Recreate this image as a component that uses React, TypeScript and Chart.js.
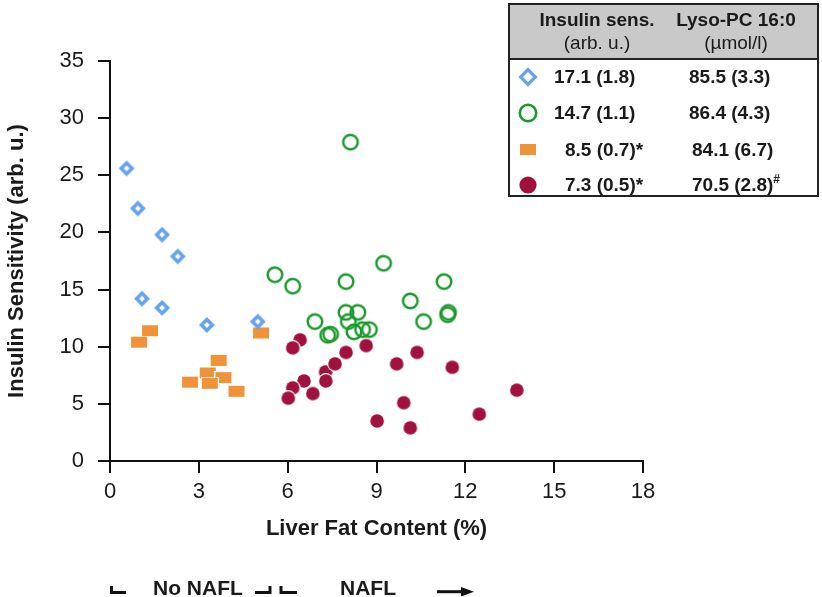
import React, { useEffect, useRef } from "react";
import { Chart, registerables } from "chart.js";

Chart.register(...registerables);

// ---- data ----
const noNaflHighX = [0.56, 0.94, 1.76, 2.29, 1.08, 1.76, 3.27, 4.99];
const noNaflHighY = [25.6, 22.1, 19.8, 17.9, 14.2, 13.4, 11.9, 12.2];

const naflHighX = [5.57, 6.17, 7.97, 8.12, 9.24, 11.28, 10.14, 7.97, 8.37, 11.43, 11.4, 10.59, 6.92, 8.05, 7.35, 7.45, 8.24, 8.53, 8.76];
const naflHighY = [16.3, 15.3, 15.7, 27.9, 17.3, 15.7, 14.0, 13.0, 13.0, 13.0, 12.8, 12.2, 12.2, 12.2, 11.0, 11.1, 11.3, 11.5, 11.5];

const noNaflLowX = [1.35, 0.98, 5.1, 3.67, 3.3, 3.83, 3.37, 2.7, 4.27];
const noNaflLowY = [11.4, 10.4, 11.2, 8.8, 7.7, 7.3, 6.8, 6.9, 6.1];

const naflLowX = [6.42, 6.17, 8.65, 7.97, 10.37, 7.28, 7.6, 9.68, 11.56, 7.29, 6.55, 6.17, 6.02, 6.85, 13.74, 9.92, 12.47, 9.02, 10.14];
const naflLowY = [10.6, 9.9, 10.1, 9.5, 9.5, 7.8, 8.5, 8.5, 8.2, 7.0, 7.0, 6.4, 5.5, 5.9, 6.2, 5.1, 4.1, 3.5, 2.9];

const legendInsulin = ["17.1 (1.8)", "14.7 (1.1)", "8.5 (0.7)*", "7.3 (0.5)*"];
const legendLysoPC = ["85.5 (3.3)", "86.4 (4.3)", "84.1 (6.7)", "70.5 (2.8)"];
const legendLysoSup = ["", "", "", "#"];

const xTitle = "Liver Fat Content (%)";
const yTitle = "Insulin Sensitivity (arb. u.)";

const BLUE = "#66a3ef";
const GREEN = "#1b9a2c";
const ORANGE = "#ef9238";
const RED = "#a0113e";
const INK = "#1a1a1a";
const FONT = '"Liberation Sans", Arial, sans-serif';

function toPts(xs: number[], ys: number[]) {
  return xs.map((x, i) => ({ x, y: ys[i] }));
}

function makeCanvas(w: number, h: number, draw: (c: CanvasRenderingContext2D) => void) {
  const cv = document.createElement("canvas");
  cv.width = w;
  cv.height = h;
  const c = cv.getContext("2d")!;
  draw(c);
  return cv;
}

export default function App() {
  const ref = useRef<HTMLCanvasElement | null>(null);

  useEffect(() => {
    if (!ref.current) return;
    const diamond = makeCanvas(20, 20, (c) => {
      c.strokeStyle = BLUE;
      c.lineWidth = 3.6;
      c.lineJoin = "miter";
      c.beginPath();
      c.moveTo(10, 4.6);
      c.lineTo(15.4, 10);
      c.lineTo(10, 15.4);
      c.lineTo(4.6, 10);
      c.closePath();
      c.stroke();
    });
    const ring = makeCanvas(20, 20, (c) => {
      c.strokeStyle = GREEN;
      c.lineWidth = 2.4;
      c.beginPath();
      c.arc(10, 10, 7.3, 0, Math.PI * 2);
      c.stroke();
    });
    const rect = makeCanvas(18, 13, (c) => {
      c.fillStyle = "#ffffff";
      c.fillRect(0, 0, 18, 13);
      c.fillStyle = ORANGE;
      c.fillRect(1, 1, 16, 11);
    });
    const dot = makeCanvas(18, 18, (c) => {
      c.fillStyle = "#ffffff";
      c.beginPath();
      c.arc(9, 9, 7.9, 0, Math.PI * 2);
      c.fill();
      c.fillStyle = RED;
      c.beginPath();
      c.arc(9, 9, 6.8, 0, Math.PI * 2);
      c.fill();
    });

    const chart = new Chart(ref.current, {
      type: "scatter",
      data: {
        datasets: [
          { label: "noNaflHigh", data: toPts(noNaflHighX, noNaflHighY), pointStyle: diamond as any, pointRadius: 6 },
          { label: "naflHigh", data: toPts(naflHighX, naflHighY), pointStyle: ring as any, pointRadius: 6 },
          { label: "noNaflLow", data: toPts(noNaflLowX, noNaflLowY), pointStyle: rect as any, pointRadius: 6 },
          { label: "naflLow", data: toPts(naflLowX, naflLowY), pointStyle: dot as any, pointRadius: 6 },
        ],
      },
      options: {
        responsive: false,
        animation: false,
        devicePixelRatio: 1,
        layout: { padding: { left: 0, right: 179, top: 61, bottom: 0 } },
        plugins: { legend: { display: false }, tooltip: { enabled: false } },
        scales: {
          x: {
            type: "linear",
            min: 0,
            max: 18,
            ticks: { stepSize: 3, font: { family: FONT, size: 22 }, color: INK, padding: 6, maxRotation: 0 },
            grid: { drawOnChartArea: false, drawTicks: true, tickLength: 12, color: "#111", lineWidth: 2 },
            border: { display: true, color: "#111", width: 2 },
            title: {
              display: true,
              text: xTitle,
              font: { family: FONT, size: 22, weight: "bold" },
              color: INK,
              padding: { top: 0, bottom: 55 },
            },
            afterFit: (s: any) => {
              s.height = 136;
            },
          },
          y: {
            type: "linear",
            min: 0,
            max: 35,
            ticks: { stepSize: 5, font: { family: FONT, size: 22 }, color: INK, padding: 14 },
            grid: { drawOnChartArea: false, drawTicks: true, tickLength: 12, color: "#111", lineWidth: 2 },
            border: { display: true, color: "#111", width: 2 },
            title: {
              display: true,
              text: yTitle,
              font: { family: FONT, size: 22, weight: "bold" },
              color: INK,
              padding: { top: 4, bottom: 0 },
            },
            afterFit: (s: any) => {
              s.width = 110;
            },
          },
        },
      },
    });
    return () => chart.destroy();
  }, []);

  const rowCenters = [77, 113, 150, 185];
  const col1Left = [554, 554, 565, 565];
  const col2Left = [689, 689, 692, 692];

  const textBase: React.CSSProperties = {
    position: "absolute",
    fontFamily: FONT,
    color: INK,
    whiteSpace: "nowrap",
    lineHeight: "22px",
  };

  return (
    <div style={{ position: "fixed", left: 0, top: 0, width: 822, height: 597, overflow: "hidden", background: "#fff" }}>
      <canvas ref={ref} width={822} height={597} style={{ position: "absolute", left: 0, top: 0 }} />

      {/* legend table */}
      <div
        style={{
          position: "absolute",
          left: 508,
          top: 3,
          width: 311,
          height: 194,
          boxSizing: "border-box",
          border: "2px solid #222",
          background: "#fff",
        }}
      >
        <div style={{ position: "absolute", left: 0, top: 0, right: 0, height: 53, background: "#c9c9c9", borderBottom: "2px solid #222" }} />
      </div>
      <div style={{ ...textBase, left: 527, width: 140, textAlign: "center", top: 9, fontSize: 19, fontWeight: "bold" }}>Insulin sens.</div>
      <div style={{ ...textBase, left: 527, width: 140, textAlign: "center", top: 32, fontSize: 19 }}>(arb. u.)</div>
      <div style={{ ...textBase, left: 666, width: 140, textAlign: "center", top: 9, fontSize: 19, fontWeight: "bold" }}>Lyso-PC 16:0</div>
      <div style={{ ...textBase, left: 666, width: 140, textAlign: "center", top: 32, fontSize: 19 }}>(µmol/l)</div>
      {legendInsulin.map((t, i) => (
        <div key={"a" + i} style={{ ...textBase, left: col1Left[i], top: rowCenters[i] - 11, fontSize: 19, fontWeight: "bold" }}>
          {t}
        </div>
      ))}
      {legendLysoPC.map((t, i) => (
        <div key={"b" + i} style={{ ...textBase, left: col2Left[i], top: rowCenters[i] - 11, fontSize: 19, fontWeight: "bold" }}>
          {t}
          {legendLysoSup[i] ? (
            <span style={{ fontSize: 12, position: "relative", top: -8 }}>{legendLysoSup[i]}</span>
          ) : null}
        </div>
      ))}

      <svg width={822} height={597} style={{ position: "absolute", left: 0, top: 0, pointerEvents: "none" }}>
        {/* legend markers */}
        <path d="M528,69.6 L535.4,77 L528,84.4 L520.6,77 Z" fill="none" stroke={BLUE} strokeWidth={3.2} />
        <circle cx={528} cy={113} r={8.2} fill="none" stroke={GREEN} strokeWidth={2.6} />
        <rect x={520} y={144} width={16} height={11} fill={ORANGE} />
        <circle cx={528} cy={185} r={8.6} fill={RED} />
        {/* bottom brackets and arrow */}
        <path d="M111.5,586 L111.5,592.5 L126,592.5" fill="none" stroke="#111" strokeWidth={3} />
        <path d="M255,592.5 L270,592.5 L270,586" fill="none" stroke="#111" strokeWidth={3} />
        <path d="M281,586 L281,592.5 L297,592.5" fill="none" stroke="#111" strokeWidth={3} />
        <path d="M437,591.7 L463,591.7" fill="none" stroke="#111" strokeWidth={3} />
        <path d="M461,587 L474,591.7 L461,596.4 Z" fill="#111" />
      </svg>

      <div style={{ ...textBase, left: 153, top: 576, fontSize: 21, fontWeight: "bold", lineHeight: "24px" }}>No NAFL</div>
      <div style={{ ...textBase, left: 340, top: 576, fontSize: 21, fontWeight: "bold", lineHeight: "24px" }}>NAFL</div>
    </div>
  );
}
